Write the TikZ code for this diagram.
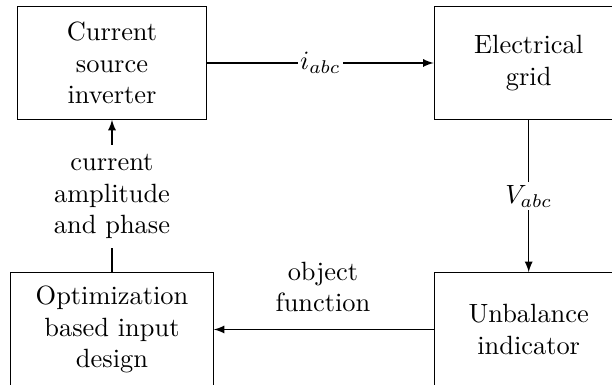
\documentclass[tikz,border=0pt]{standalone}
\usetikzlibrary{arrows}
\begin{document}
\begin{tikzpicture}[x=0.3788pt,y=-0.3788pt,
  blk/.style={draw, align=center, inner sep=0pt},
  edgelab/.style={fill=white, inner sep=1pt},
  txt/.style={align=center},
  >=latex]
\useasboundingbox (0,0) rectangle (612,385);
\node[blk, minimum width=71.75pt, minimum height=42.65pt] (csi) at (112,63) {Current\\source\\inverter};
\node[blk, minimum width=71.6pt, minimum height=42.65pt] (grid) at (528.7,63) {Electrical\\grid};
\node[blk, minimum width=76.75pt, minimum height=43pt] (opt) at (112,329.5) {Optimization\\based input\\design};
\node[blk, minimum width=71.6pt, minimum height=43pt] (ub) at (528.7,329.5) {Unbalance\\indicator};
\node[txt, fill=white] (cap) at (112,196.5) {current\\amplitude\\and phase};
\node[txt] (of) at (323,287) {object\\function};
\draw[->] (csi) -- node[edgelab] (iabc) {$i_{abc}$} (grid);
\draw[->] (grid) -- node[edgelab] (vabc) {$V_{abc}$} (ub);
\draw[->] (ub) -- (opt);
\draw (opt) -- (cap);
\draw[->] (cap) -- (csi);
\end{tikzpicture}
\end{document}
